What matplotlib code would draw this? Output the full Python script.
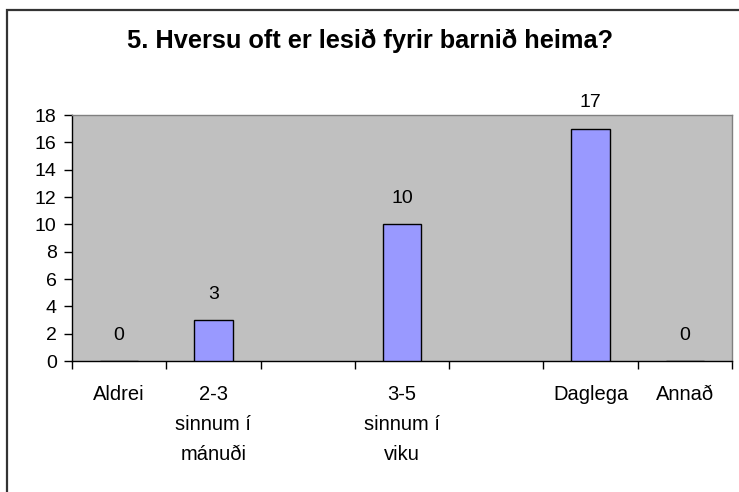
import matplotlib.pyplot as plt
from matplotlib.patches import Rectangle

plt.rcParams["font.family"] = ["Liberation Sans", "DejaVu Sans"]

TITLE = "5. Hversu oft er lesið fyrir barnið heima?"
categories = ["Aldrei", "2-3\nsinnum í\nmánuði", "", "3-5\nsinnum í\nviku", "", "Daglega", "Annað"]
values = [0, 3, None, 10, None, 17, 0]
y_ticks = [0, 2, 4, 6, 8, 10, 12, 14, 16, 18]


def main() -> None:
    fig = plt.figure(figsize=(7.39, 4.92), dpi=100)
    fig.patches.append(Rectangle((7 / 739, -0.1), 1.2, 1 - 9.5 / 492 + 0.1,
                                 transform=fig.transFigure, fill=False,
                                 edgecolor="#333333", linewidth=1.6))

    ax = fig.add_axes([72 / 739, 1 - 361 / 492, 660 / 739, 246 / 492])
    ax.set_facecolor("#c0c0c0")

    xs = list(range(len(categories)))
    bar_x = [x for x, v in zip(xs, values) if v is not None]
    bar_v = [v for v in values if v is not None]
    ax.bar(bar_x, bar_v, width=0.41, color="#9999ff", edgecolor="black", linewidth=1.0, zorder=3)
    for x, v in zip(bar_x, bar_v):
        ax.annotate(str(v), (x, v), xytext=(0, 18.5), textcoords="offset points",
                    ha="center", va="center", fontsize=14, annotation_clip=False)

    ax.set_xlim(-0.5, len(categories) - 0.5)
    ax.set_ylim(0, 18)
    ax.set_yticks(y_ticks)
    ax.set_xticks(xs)
    ax.set_xticklabels(categories, fontsize=14.5, linespacing=1.75, va="top")
    ax.set_xticks([x - 0.5 for x in xs] + [len(categories) - 0.5], minor=True)
    ax.tick_params(axis="x", which="major", length=0, pad=17)
    ax.tick_params(axis="x", which="minor", length=6, width=1, direction="out")
    ax.tick_params(axis="y", labelsize=14, length=6, width=1, pad=5)

    for side in ("top", "right"):
        ax.spines[side].set_color("#808080")
        ax.spines[side].set_linewidth(1.0)
    for side in ("left", "bottom"):
        ax.spines[side].set_color("black")
        ax.spines[side].set_linewidth(1.0)

    fig.text(370 / 739, 1 - 41 / 492, TITLE, ha="center", va="center",
             fontsize=18.3, fontweight="bold")

    fig.savefig("out.png", dpi=100)
    plt.close(fig)


if __name__ == "__main__":
    main()
